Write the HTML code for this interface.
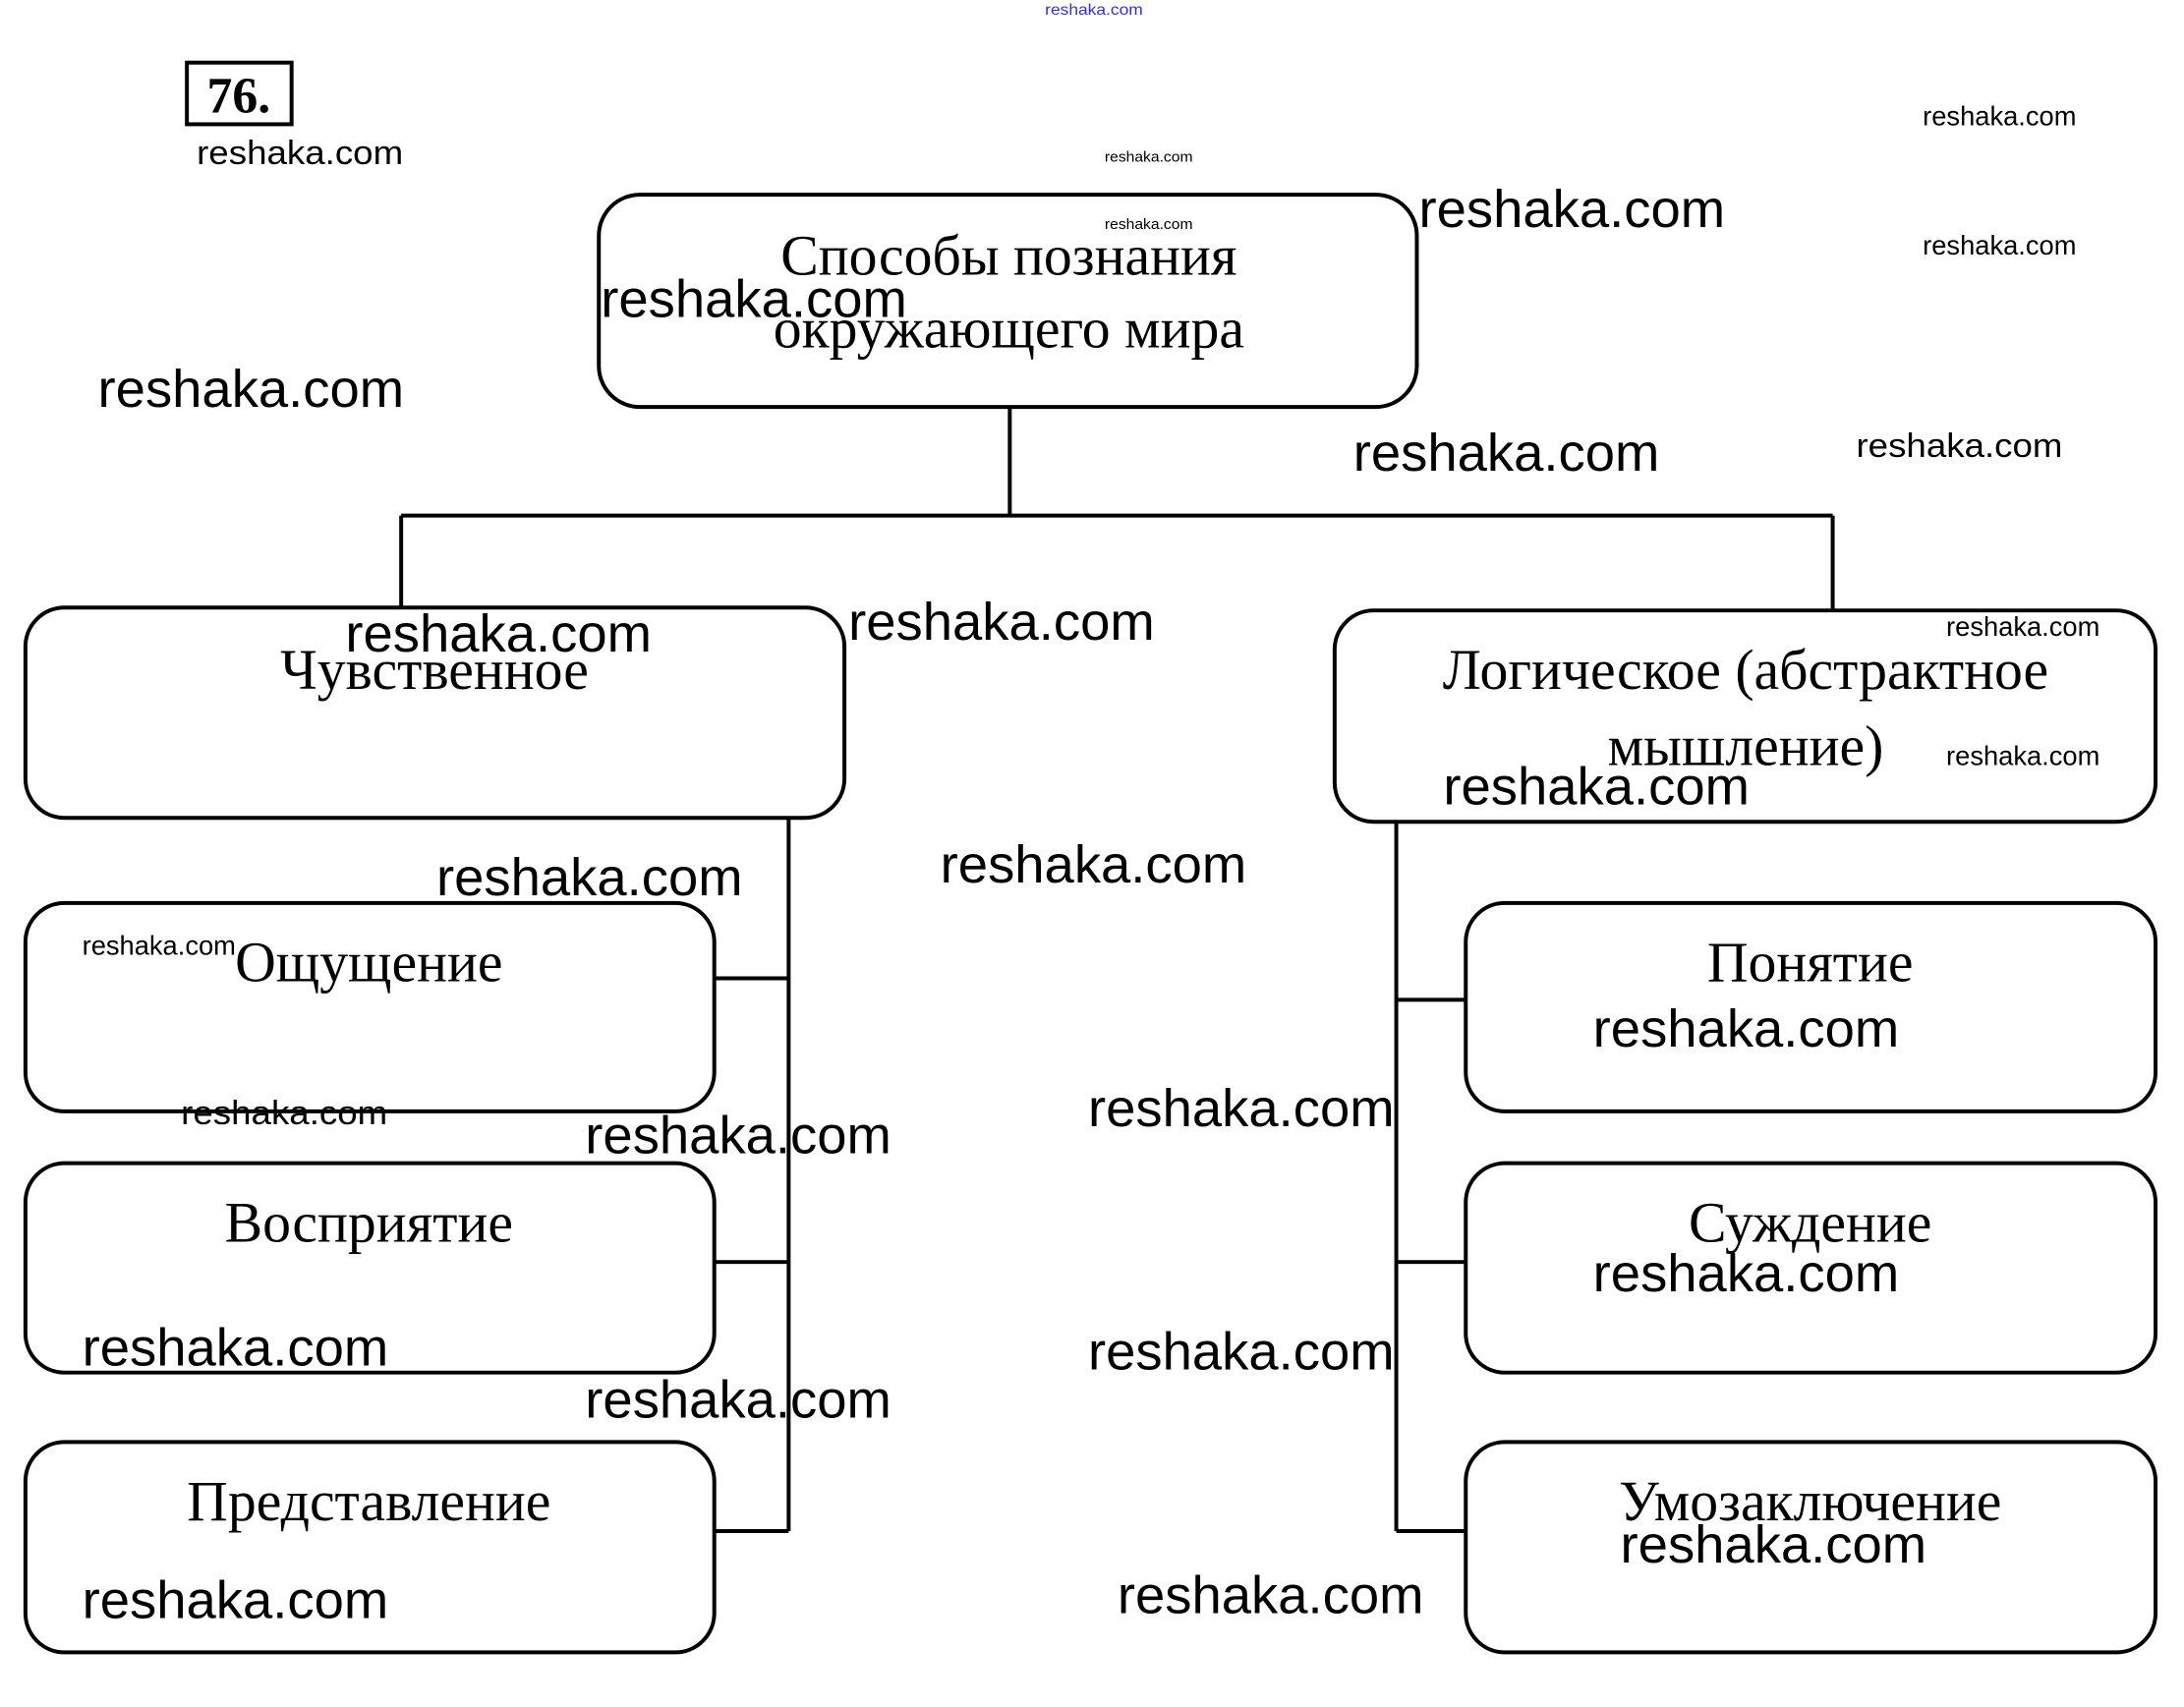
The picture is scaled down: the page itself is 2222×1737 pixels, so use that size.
<!DOCTYPE html>
<html><head><meta charset="utf-8"><style>html,body{margin:0;padding:0;background:#fff}svg{display:block}</style></head>
<body>
<svg width="2222" height="1737" viewBox="0 0 2222 1737" xmlns="http://www.w3.org/2000/svg">
<g transform="scale(0.9955)">
<g fill="none" stroke="#000" stroke-width="4">
<rect x="191" y="64" width="107" height="63" stroke-width="4"/>
<rect x="612" y="199" width="836" height="217" rx="42"/>
<path d="M1032 416V527M410 527H1873M410 527V621M1873 527V624"/>
<rect x="26" y="621" width="837" height="215" rx="40"/>
<rect x="1364" y="624" width="839" height="216" rx="40"/>
<path d="M806 836V1565M730 1000H806M730 1290H806M730 1565H806"/>
<path d="M1427 840V1565M1427 1022H1498M1427 1290H1498M1427 1565H1498"/>
<rect x="26" y="923" width="704" height="213" rx="40"/>
<rect x="26" y="1189" width="704" height="214" rx="40"/>
<rect x="26" y="1474" width="704" height="215" rx="40"/>
<rect x="1498" y="923" width="705" height="213" rx="40"/>
<rect x="1498" y="1189" width="705" height="214" rx="40"/>
<rect x="1498" y="1474" width="705" height="215" rx="40"/>
</g>
<g font-family="Liberation Serif, serif" font-size="58" text-anchor="middle" fill="#000">
<text x="244" y="115" font-weight="bold" font-size="52">76.</text>
<text x="1031" y="281">Способы познания</text>
<text x="1031" y="355">окружающего мира</text>
<text x="444" y="704">Чувственное</text>
<text x="1784" y="704">Логическое (абстрактное</text>
<text x="1784" y="782">мышление)</text>
<text x="377" y="1003">Ощущение</text>
<text x="377" y="1269">Восприятие</text>
<text x="377" y="1554">Представление</text>
<text x="1850" y="1003">Понятие</text>
<text x="1850" y="1269">Суждение</text>
<text x="1850" y="1554">Умозаключение</text>
</g>
<g font-family="Liberation Sans, sans-serif" fill="#000">
<text x="1068" y="15" font-size="16" fill="#33c" textLength="100" lengthAdjust="spacingAndGlyphs">reshaka.com</text>
<g font-size="34"><text x="201" y="168" textLength="211" lengthAdjust="spacingAndGlyphs">reshaka.com</text>
<text x="185" y="1149" textLength="211" lengthAdjust="spacingAndGlyphs">reshaka.com</text>
<text x="1897" y="467" textLength="211" lengthAdjust="spacingAndGlyphs">reshaka.com</text></g>
<g font-size="28"><text x="1965" y="128" textLength="157" lengthAdjust="spacingAndGlyphs">reshaka.com</text>
<text x="1965" y="260" textLength="157" lengthAdjust="spacingAndGlyphs">reshaka.com</text>
<text x="1989" y="650" textLength="157" lengthAdjust="spacingAndGlyphs">reshaka.com</text>
<text x="1989" y="782" textLength="157" lengthAdjust="spacingAndGlyphs">reshaka.com</text>
<text x="84" y="976" textLength="157" lengthAdjust="spacingAndGlyphs">reshaka.com</text></g>
<g font-size="15"><text x="1129" y="165" textLength="90" lengthAdjust="spacingAndGlyphs">reshaka.com</text>
<text x="1129" y="234" textLength="90" lengthAdjust="spacingAndGlyphs">reshaka.com</text></g>
<g font-size="54">
<text x="1450" y="232" textLength="313" lengthAdjust="spacingAndGlyphs">reshaka.com</text>
<text x="614" y="324" textLength="313" lengthAdjust="spacingAndGlyphs">reshaka.com</text>
<text x="100" y="416" textLength="313" lengthAdjust="spacingAndGlyphs">reshaka.com</text>
<text x="1383" y="481" textLength="313" lengthAdjust="spacingAndGlyphs">reshaka.com</text>
<text x="353" y="666" textLength="313" lengthAdjust="spacingAndGlyphs">reshaka.com</text>
<text x="867" y="654" textLength="313" lengthAdjust="spacingAndGlyphs">reshaka.com</text>
<text x="1475" y="822" textLength="313" lengthAdjust="spacingAndGlyphs">reshaka.com</text>
<text x="446" y="915" textLength="313" lengthAdjust="spacingAndGlyphs">reshaka.com</text>
<text x="961" y="902" textLength="313" lengthAdjust="spacingAndGlyphs">reshaka.com</text>
<text x="598" y="1179" textLength="313" lengthAdjust="spacingAndGlyphs">reshaka.com</text>
<text x="1112" y="1151" textLength="313" lengthAdjust="spacingAndGlyphs">reshaka.com</text>
<text x="1628" y="1070" textLength="313" lengthAdjust="spacingAndGlyphs">reshaka.com</text>
<text x="1628" y="1320" textLength="313" lengthAdjust="spacingAndGlyphs">reshaka.com</text>
<text x="84" y="1396" textLength="313" lengthAdjust="spacingAndGlyphs">reshaka.com</text>
<text x="1112" y="1400" textLength="313" lengthAdjust="spacingAndGlyphs">reshaka.com</text>
<text x="598" y="1449" textLength="313" lengthAdjust="spacingAndGlyphs">reshaka.com</text>
<text x="1656" y="1597" textLength="313" lengthAdjust="spacingAndGlyphs">reshaka.com</text>
<text x="84" y="1654" textLength="313" lengthAdjust="spacingAndGlyphs">reshaka.com</text>
<text x="1142" y="1649" textLength="313" lengthAdjust="spacingAndGlyphs">reshaka.com</text>
</g>
</g>
</g>
</svg>
</body></html>
